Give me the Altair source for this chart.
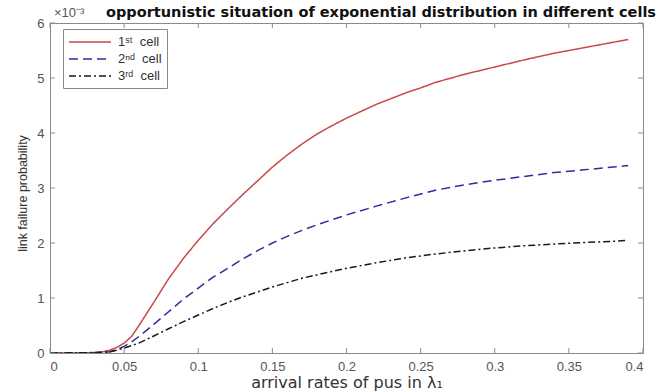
import altair as alt
import pandas as pd

# arrival rate lambda_1
x_red = [0, 0.02, 0.03, 0.035, 0.04, 0.045, 0.05, 0.055, 0.06, 0.07, 0.08, 0.09, 0.1, 0.11, 0.12, 0.13, 0.14, 0.15,
         0.16, 0.17, 0.18, 0.19, 0.2, 0.22, 0.24, 0.25, 0.26, 0.28, 0.3, 0.32, 0.34, 0.36, 0.38, 0.39]
y_red = [0, 0, 0.01, 0.02, 0.05, 0.1, 0.18, 0.3, 0.5, 0.92, 1.35, 1.72, 2.05, 2.35, 2.62, 2.88, 3.13, 3.38,
         3.6, 3.8, 3.98, 4.13, 4.27, 4.52, 4.73, 4.82, 4.92, 5.07, 5.2, 5.33, 5.45, 5.55, 5.65, 5.7]

x_blue = [0, 0.03, 0.04, 0.045, 0.05, 0.055, 0.06, 0.07, 0.08, 0.09, 0.1, 0.11, 0.12, 0.13, 0.14, 0.15, 0.16,
          0.17, 0.18, 0.19, 0.2, 0.22, 0.24, 0.26, 0.28, 0.3, 0.32, 0.34, 0.36, 0.38, 0.39]
y_blue = [0, 0.005, 0.02, 0.06, 0.12, 0.2, 0.3, 0.52, 0.75, 0.98, 1.18, 1.38, 1.54, 1.71, 1.86, 2.0, 2.12,
          2.23, 2.33, 2.42, 2.51, 2.67, 2.82, 2.96, 3.06, 3.14, 3.21, 3.28, 3.33, 3.38, 3.41]

x_black = [0, 0.03, 0.04, 0.045, 0.05, 0.06, 0.07, 0.08, 0.09, 0.1, 0.11, 0.12, 0.13, 0.14, 0.15, 0.16, 0.17,
           0.18, 0.19, 0.2, 0.22, 0.24, 0.26, 0.28, 0.3, 0.32, 0.34, 0.36, 0.38, 0.39]
y_black = [0, 0.005, 0.02, 0.05, 0.09, 0.18, 0.31, 0.44, 0.57, 0.69, 0.81, 0.92, 1.02, 1.11, 1.2, 1.28, 1.36,
           1.42, 1.48, 1.54, 1.64, 1.73, 1.8, 1.86, 1.91, 1.95, 1.98, 2.01, 2.03, 2.05]

series_names = ["1ˢᵗ\u00a0\u00a0cell", "2ⁿᵈ\u00a0\u00a0cell", "3ʳᵈ\u00a0\u00a0cell"]
series_colors = ["#c8484a", "#2e2e9e", "#1a1a1a"]
series_dashes = [[1, 0], [9, 5], [7, 3, 2, 3]]

x_ticks = [0, 0.05, 0.1, 0.15, 0.2, 0.25, 0.3, 0.35, 0.4]
y_ticks = [0, 1, 2, 3, 4, 5, 6]

title_text = "opportunistic situation of exponential distribution in different cells"
x_title = "arrival rates of pus in λ₁"
y_title = "link failure probability"
exp_text = "×10⁻³"

W, H = 593, 330
FONT = "Liberation Sans"
WIDE = "DejaVu Sans"
GRAY = "#555555"
FRAME = "#8a8a8a"

rows = []
for name, xs, ys in zip(series_names, [x_red, x_blue, x_black], [y_red, y_blue, y_black]):
    for a, b in zip(xs, ys):
        rows.append({"x": a, "y": b, "series": name})
df = pd.DataFrame(rows)

xs = alt.Scale(domain=[0, 0.4], nice=False, zero=False)
ys = alt.Scale(domain=[0, 6], nice=False)

lines = alt.Chart(df).mark_line(strokeWidth=1.5, clip=True).encode(
    x=alt.X("x:Q", scale=xs,
            axis=alt.Axis(values=x_ticks, ticks=False, domain=False, grid=False, labelFont=FONT,
                          labelFontSize=13, labelColor=GRAY, labelPadding=7, format="~g",
                          title=x_title, titleFont=WIDE, titleFontSize=16, titleFontWeight="normal",
                          titleColor="#333333", titlePadding=1)),
    y=alt.Y("y:Q", scale=ys,
            axis=alt.Axis(values=y_ticks, ticks=False, domain=False, grid=False, labelFont=FONT,
                          labelFontSize=13, labelColor=GRAY, labelPadding=6, format="d",
                          title=y_title, titleFont=FONT, titleFontSize=12.5, titleFontWeight="normal",
                          titleColor="#333333", titleX=-21, titleY=H / 2 + 5)),
    color=alt.Color("series:N", scale=alt.Scale(domain=series_names, range=series_colors),
                    legend=alt.Legend(title=None, orient="none", legendX=13, legendY=6,
                                      symbolType="M-3,0H3", symbolSize=196, symbolOffset=14,
                                      symbolStrokeWidth=1.5, labelOffset=20,
                                      labelFont=FONT, labelFontSize=13, labelColor="#333333",
                                      strokeColor=FRAME, fillColor="white", padding=5,
                                      rowPadding=2)),
    strokeDash=alt.StrokeDash("series:N", scale=alt.Scale(domain=series_names, range=series_dashes),
                              legend=None),
    order=alt.Order("x:Q"),
)

xt = pd.DataFrame({"v": x_ticks})
yt = pd.DataFrame({"v": y_ticks})
tick_style = dict(color=FRAME, strokeWidth=1)
bot = alt.Chart(xt).mark_rule(**tick_style).encode(x=alt.X("v:Q", scale=xs), y=alt.value(H), y2=alt.value(H - 5))
top = alt.Chart(xt).mark_rule(**tick_style).encode(x=alt.X("v:Q", scale=xs), y=alt.value(0), y2=alt.value(5))
left = alt.Chart(yt).mark_rule(**tick_style).encode(y=alt.Y("v:Q", scale=ys), x=alt.value(0), x2=alt.value(5))
right = alt.Chart(yt).mark_rule(**tick_style).encode(y=alt.Y("v:Q", scale=ys), x=alt.value(W), x2=alt.value(W - 5))

title = alt.Chart(pd.DataFrame({"t": [title_text]})).mark_text(
    font=WIDE, fontSize=14.5, fontWeight="bold", color="#111111", align="center", baseline="alphabetic"
).encode(text="t:N", x=alt.value(331), y=alt.value(-6))

expo = alt.Chart(pd.DataFrame({"t": [exp_text]})).mark_text(
    font=FONT, fontSize=13, color=GRAY, align="left", baseline="alphabetic"
).encode(text="t:N", x=alt.value(4), y=alt.value(-6))

chart = alt.layer(lines, bot, top, left, right, title, expo).properties(
    width=W, height=H,
    autosize=alt.AutoSizeParams(type="none"),
    padding={"left": 50, "top": 23, "right": 25, "bottom": 38},
    background="white",
).configure_view(stroke=FRAME, strokeWidth=1)

chart.save("out.html", embed_options={"renderer": "svg", "actions": False})
